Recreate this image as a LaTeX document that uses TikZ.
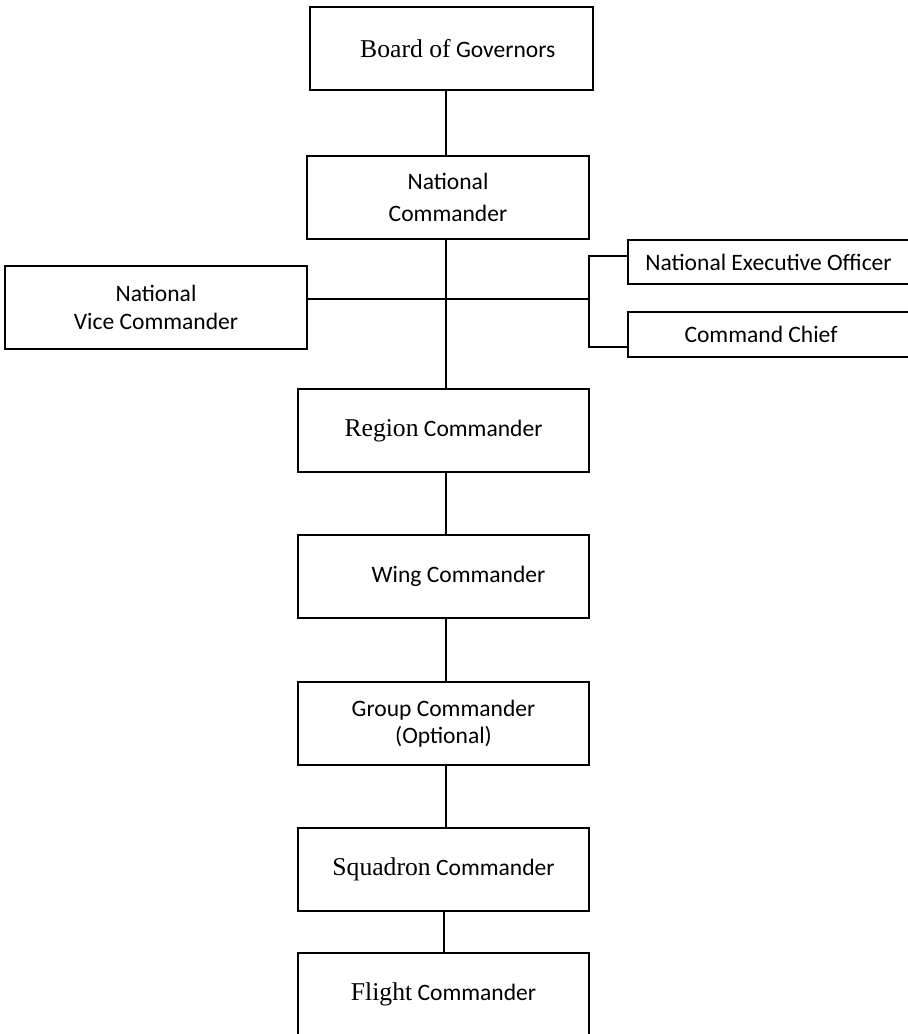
\documentclass[tikz,border=0pt]{standalone}
\usepackage{fontspec}
\setmainfont{Carlito}
\newfontfamily\timesrm{Liberation Serif}
\usetikzlibrary{calc}

\tikzset{
  orgbox/.style={draw, line width=0.8pt, inner sep=0pt, outer sep=0pt,
    align=center, minimum width=5.82cm, minimum height=1.66cm,
    font=\fontsize{13.4}{17}\selectfont},
  sidebox/.style={orgbox, minimum width=5.62cm, minimum height=0.89cm},
  link/.style={line width=1.1pt},
}
\newcommand\tnr[1]{{\fontsize{14.6}{17}\timesrm #1}}

\begin{document}
\begin{tikzpicture}[x=0.02cm, y=-0.02cm]
  \useasboundingbox (0,0) rectangle (908,1034);
  \coordinate (spine) at (446,0);

  % top of the chain
  \node[orgbox, minimum width=5.66cm] (board) at (451.5,48.5) {\hspace*{0.25cm}\tnr{Board of} Governors};
  \node[orgbox, minimum width=5.64cm, font=\fontsize{13.4}{18.5}\selectfont] (natcmd) at (448,197.5) {National\\Commander};

  % staff beside the national commander
  \node[orgbox, minimum width=6.04cm, font=\fontsize{13.4}{15.5}\selectfont] (vice) at (156,307.5) {National\\Vice Commander};
  \node[sidebox, minimum height=0.88cm] (neo) at (768.5,262) {National Executive Officer};
  \node[sidebox, minimum height=0.9cm] (chief) at (768.5,334.5) {Command Chief\hspace*{0.3cm}};
  \coordinate (bracket) at (589,299);

  % chain of command
  \node[orgbox] (region) at (443.5,430.5) {\tnr{Region} Commander};
  \node[orgbox] (wing) at (443.5,576.5) {\hspace*{0.6cm}Wing Commander};
  \node[orgbox, font=\fontsize{13.4}{15.5}\selectfont] (group) at (443.5,723.5) {Group Commander\\(Optional)};
  \node[orgbox] (squadron) at (443.5,869.5) {\tnr{Squadron} Commander};
  \node[orgbox] (flight) at (443.5,994.5) {\tnr{Flight} Commander};

  % connectors
  \draw[link] (board.south -| spine) -- (natcmd.north -| spine);
  \draw[link] (natcmd.south -| spine) -- (region.north -| spine);
  \draw[link] (vice.east |- bracket) -- (bracket);
  \draw[link] ($(neo.west)+(0,-6)$) -| (bracket) |- ($(chief.west)+(0,12.5)$);
  \draw[link] (region.south -| spine) -- (wing.north -| spine);
  \draw[link] (wing.south -| spine) -- (group.north -| spine);
  \draw[link] (group.south -| spine) -- (squadron.north -| spine);
  \draw[link] ($(squadron.south -| spine)+(-2,0)$) -- ($(flight.north -| spine)+(-2,0)$);
\end{tikzpicture}
\end{document}
